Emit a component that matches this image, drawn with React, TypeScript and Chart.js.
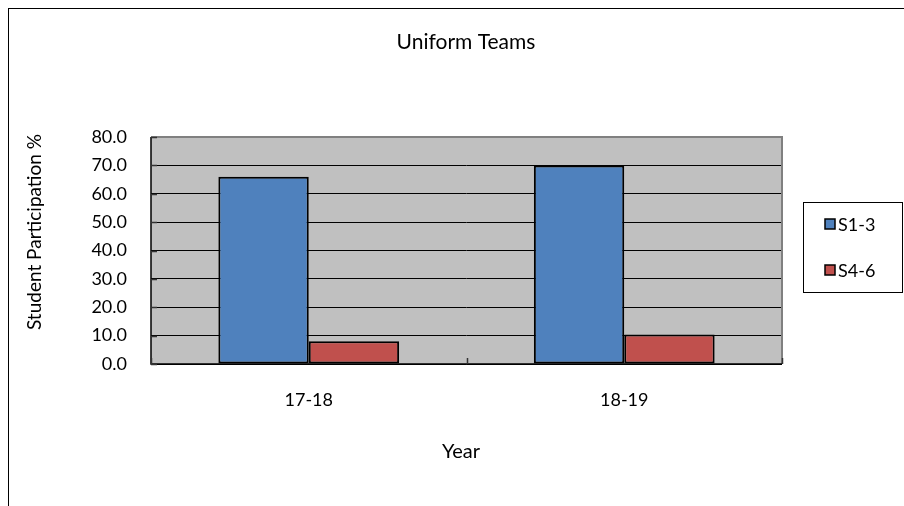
import React, { useEffect, useRef } from "react";
import { Chart, registerables } from "chart.js";

Chart.register(...registerables);

const categories = ["17-18", "18-19"];
const seriesNames = ["S1-3", "S4-6"];
const seriesS13 = [66, 70];
const seriesS46 = [8, 10.4];
const seriesColors = ["#4F81BD", "#C0504D"];
const yMin = 0;
const yMax = 80;
const yStep = 10;
const chartTitle = "Uniform Teams";
const xTitle = "Year";
const yTitle = "Student Participation %";

const FONT = "Lato, 'Liberation Sans', sans-serif";

const decorPlugin = {
  id: "decor",
  beforeDraw(chart: any) {
    const { ctx, chartArea: a } = chart;
    ctx.save();
    ctx.fillStyle = "#C0C0C0";
    ctx.fillRect(a.left, a.top, a.right - a.left, a.bottom - a.top);
    ctx.restore();
  },
  afterDatasetsDraw(chart: any) {
    const { ctx, chartArea: a, scales } = chart;
    ctx.save();
    ctx.strokeStyle = "#808080";
    ctx.lineWidth = 2;
    ctx.beginPath();
    ctx.moveTo(a.left, a.top);
    ctx.lineTo(a.right, a.top);
    ctx.lineTo(a.right, a.bottom);
    ctx.stroke();
    ctx.strokeStyle = "#000";
    ctx.lineWidth = 1.5;
    ctx.beginPath();
    ctx.moveTo(a.left, a.top);
    ctx.lineTo(a.left, a.bottom);
    ctx.lineTo(a.right, a.bottom);
    ctx.stroke();
    ctx.strokeStyle = "#333";
    const y = scales.y;
    for (let v = yMin; v <= yMax; v += yStep) {
      const py = Math.round(y.getPixelForValue(v)) + 0.5;
      ctx.beginPath();
      ctx.moveTo(a.left, py);
      ctx.lineTo(a.left + 6, py);
      ctx.stroke();
    }
    const x = scales.x;
    for (let i = 0; i <= categories.length; i++) {
      const px = Math.round(x.getPixelForValue(i - 0.5)) + 0.5;
      ctx.beginPath();
      ctx.moveTo(px, a.bottom);
      ctx.lineTo(px, a.bottom - 6);
      ctx.stroke();
    }
    ctx.restore();
  },
  afterDraw(chart: any) {
    const { ctx } = chart;
    ctx.save();
    ctx.fillStyle = "#000";
    ctx.textAlign = "center";
    ctx.textBaseline = "middle";
    ctx.font = `21px ${FONT}`;
    ctx.fillText(chartTitle, 457, 33);
    ctx.font = `20px ${FONT}`;
    ctx.fillText(xTitle, 452, 443);
    ctx.save();
    ctx.font = `19px ${FONT}`;
    ctx.translate(26, 223);
    ctx.rotate(-Math.PI / 2);
    ctx.fillText(yTitle, 0, 0);
    ctx.restore();
    ctx.strokeStyle = "#000";
    ctx.lineWidth = 1;
    ctx.strokeRect(794.5, 193.5, 99, 90);
    const rows = [215, 261];
    chart.data.datasets.forEach((ds: any, i: number) => {
      const yy = rows[i];
      ctx.fillStyle = ds.backgroundColor;
      ctx.fillRect(816, yy - 5, 10, 10);
      ctx.strokeStyle = "#000";
      ctx.lineWidth = 1.5;
      ctx.strokeRect(816, yy - 5, 10, 10);
      ctx.fillStyle = "#000";
      ctx.textAlign = "left";
      ctx.font = `18px ${FONT}`;
      ctx.fillText(ds.label, 829, yy + 1);
    });
    ctx.restore();
  },
};

export default function App() {
  const ref = useRef<HTMLCanvasElement | null>(null);
  useEffect(() => {
    document.documentElement.style.overflow = "hidden";
    document.body.style.overflow = "hidden";
    if (!ref.current) return;
    const chart = new Chart(ref.current, {
      type: "bar",
      data: {
        labels: categories,
        datasets: [
          {
            label: seriesNames[0],
            data: seriesS13,
            backgroundColor: seriesColors[0],
            borderColor: "#000",
            borderWidth: 2,
            borderSkipped: false,
          },
          {
            label: seriesNames[1],
            data: seriesS46,
            backgroundColor: seriesColors[1],
            borderColor: "#000",
            borderWidth: 2,
            borderSkipped: false,
          },
        ],
      },
      options: {
        responsive: false,
        animation: false,
        events: [],
        layout: { padding: { left: 0, right: 122, top: 128, bottom: 0 } },
        datasets: { bar: { barPercentage: 1, categoryPercentage: 0.573 } },
        plugins: { legend: { display: false }, title: { display: false }, tooltip: { enabled: false } },
        scales: {
          x: {
            grid: { display: false },
            border: { display: false },
            ticks: { color: "#000", font: { family: FONT, size: 18 }, padding: 17 },
            afterFit(scale: any) {
              scale.height = 142;
            },
          },
          y: {
            min: yMin,
            max: yMax,
            grid: { color: "#000", lineWidth: 1, drawTicks: false },
            border: { display: false },
            ticks: {
              stepSize: yStep,
              color: "#000",
              font: { family: FONT, size: 18 },
              padding: 24,
              callback: (v: any) => Number(v).toFixed(1),
            },
            afterFit(scale: any) {
              scale.width = 142;
            },
          },
        },
      },
      plugins: [decorPlugin],
    } as any);
    return () => chart.destroy();
  }, []);
  return (
    <div
      style={{
        position: "fixed",
        left: 8,
        top: 8,
        width: 896,
        height: 498,
        boxSizing: "border-box",
        borderLeft: "1px solid #000",
        borderTop: "1px solid #000",
        background: "#fff",
        overflow: "hidden",
      }}
    >
      <canvas ref={ref} width={895} height={497} style={{ display: "block", width: 895, height: 497 }} />
    </div>
  );
}
